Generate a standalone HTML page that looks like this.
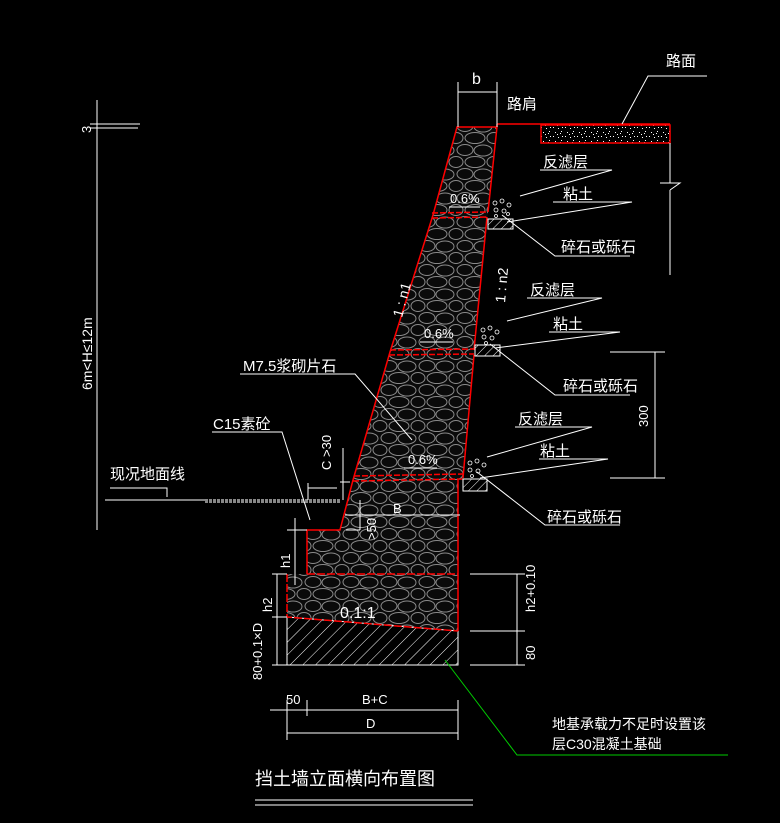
<!DOCTYPE html>
<html><head><meta charset="utf-8"><style>
html,body{margin:0;padding:0;background:#000;}
svg{display:block}
text{font-family:"Liberation Sans","Noto Sans CJK SC",sans-serif;fill:#fff;}
</style></head><body>
<svg width="780" height="823" viewBox="0 0 780 823" xmlns="http://www.w3.org/2000/svg">
<defs>
<pattern id="st" width="38" height="24" patternUnits="userSpaceOnUse">
<rect width="38" height="24" fill="#0a0a0a"/>
<g fill="none" stroke="#8a8a8a" stroke-width="1">
<ellipse cx="9" cy="6" rx="8" ry="5.5"/>
<ellipse cx="27" cy="6.5" rx="9" ry="5.5"/>
<ellipse cx="0" cy="18" rx="7" ry="5.5"/>
<ellipse cx="38" cy="18" rx="7" ry="5.5"/>
<ellipse cx="19" cy="18" rx="10" ry="5.5"/>
</g>
</pattern>
<pattern id="ht" width="9" height="9" patternUnits="userSpaceOnUse" patternTransform="rotate(45)">
<line x1="0" y1="0" x2="0" y2="9" stroke="#fff" stroke-width="1"/>
</pattern>
<pattern id="hs" width="6" height="6" patternUnits="userSpaceOnUse" patternTransform="rotate(45)">
<line x1="0" y1="0" x2="0" y2="6" stroke="#fff" stroke-width="1"/>
</pattern>
<pattern id="sp" width="12" height="9" patternUnits="userSpaceOnUse">
<rect width="12" height="9" fill="#000"/>
<g fill="#fff"><rect x="1" y="1" width="1" height="1"/><rect x="6" y="2" width="1" height="1"/><rect x="9" y="5" width="1" height="1"/><rect x="3" y="6" width="1" height="1"/><rect x="10" y="1" width="1" height="1"/><rect x="5" y="8" width="1" height="1"/><rect x="8" y="7" width="1" height="1"/></g>
</pattern>
</defs>

<polygon points="457,127 497,127 488,212 474,350 463,478 458,480 458,574 307,574 307,530 340,530 353,480 390,352 433,215" fill="url(#st)"/>
<polygon points="287,574 458,574 458,631 287,617" fill="url(#st)"/>
<polygon points="287,617 458,631 458,665 287,665" fill="url(#ht)" stroke="#fff"/>
<g fill="none" stroke="#f00" stroke-width="1.5">
<polyline points="433,215 457,127 497,127 488,212"/>
<line x1="487" y1="217" x2="474" y2="350"/>
<line x1="474" y1="355" x2="463" y2="478"/>
<polyline points="433,215 390,352 353,480 340,530 307,530 307,574"/>
<line x1="432" y1="213" x2="488" y2="212" stroke-dasharray="6,2"/>
<line x1="432" y1="218" x2="487" y2="217" stroke-dasharray="6,2"/>
<line x1="390" y1="350" x2="474" y2="349" stroke-dasharray="6,2"/>
<line x1="389" y1="355" x2="474" y2="354" stroke-dasharray="6,2"/>
<line x1="354" y1="476" x2="463" y2="474" stroke-dasharray="6,2"/>
<line x1="353" y1="481" x2="463" y2="479" stroke-dasharray="6,2"/>
<line x1="307" y1="574" x2="458" y2="574" stroke-dasharray="8,2"/>
<polyline points="287,574 287,617 458,631" stroke-dasharray="8,2"/>
<line x1="458" y1="480" x2="458" y2="631"/>
<line x1="497" y1="124" x2="670" y2="124"/>
<line x1="497" y1="124" x2="497" y2="127"/>
</g>
<rect x="541" y="125" width="129" height="18" fill="url(#sp)" stroke="#f00" stroke-width="1.5"/>
<g stroke="#fff" fill="none" stroke-width="1">
<line x1="670" y1="143" x2="670" y2="183"/><polyline points="660,183 680,183 670,190"/><line x1="670" y1="190" x2="670" y2="275"/>
<polyline points="622,124 648,76 707,76"/>
<line x1="458" y1="82" x2="458" y2="127"/><line x1="497" y1="82" x2="497" y2="127"/><line x1="458" y1="92" x2="497" y2="92"/>
<line x1="97" y1="100" x2="97" y2="530"/><line x1="90" y1="124" x2="140" y2="124"/><line x1="90" y1="128" x2="138" y2="128"/>
<line x1="105" y1="500" x2="205" y2="500"/><polyline points="110,488 167,488 167,497"/>
<line x1="205" y1="501" x2="340" y2="501" stroke="#888" stroke-width="4" stroke-dasharray="3,1"/>
<polyline points="212,432 282,432 310,520"/>
<polyline points="240,374 355,374 412,440"/>
<polyline points="540,170 612,170 520,196"/><polyline points="553,202 632,202 507,222"/><polyline points="502,215 555,256 630,256"/>
<polyline points="527,298 602,298 507,321"/><polyline points="549,332 620,332 495,348"/><polyline points="490,344 555,395 630,395"/>
<polyline points="515,427 592,427 487,457"/><polyline points="539,459 608,459 480,478"/><polyline points="477,472 545,525 620,525"/>
<line x1="610" y1="352" x2="665" y2="352"/><line x1="610" y1="478" x2="665" y2="478"/><line x1="655" y1="352" x2="655" y2="478"/>
<line x1="470" y1="574" x2="525" y2="574"/><line x1="470" y1="631" x2="525" y2="631"/><line x1="470" y1="665" x2="525" y2="665"/><line x1="517" y1="574" x2="517" y2="665"/>
<line x1="272" y1="574" x2="287" y2="574"/><line x1="272" y1="617" x2="287" y2="617"/><line x1="272" y1="665" x2="287" y2="665"/>
<line x1="277" y1="574" x2="277" y2="665"/><line x1="295" y1="518" x2="295" y2="585"/><line x1="287" y1="530" x2="307" y2="530"/>
<line x1="308" y1="483" x2="308" y2="500"/><line x1="308" y1="488" x2="337" y2="488"/><line x1="343" y1="448" x2="343" y2="500"/><line x1="340" y1="482" x2="350" y2="482"/>
<line x1="345" y1="515" x2="460" y2="515"/><line x1="360" y1="500" x2="360" y2="530"/><line x1="346" y1="530" x2="360" y2="530"/>
<line x1="270" y1="710" x2="458" y2="710"/><line x1="287" y1="700" x2="287" y2="740"/><line x1="307" y1="700" x2="307" y2="716"/><line x1="458" y1="700" x2="458" y2="740"/>
<line x1="287" y1="733" x2="458" y2="733"/>
<line x1="255" y1="800" x2="473" y2="800"/><line x1="255" y1="805" x2="473" y2="805"/>
<line x1="449" y1="207" x2="480" y2="207"/><line x1="420" y1="342" x2="453" y2="342"/><line x1="404" y1="468" x2="437" y2="468"/>
</g>
<polyline points="445,660 517,755 728,755" fill="none" stroke="#0c0" stroke-width="1"/>
<g stroke="#fff" fill="none"><rect x="488" y="219" width="25" height="10" fill="url(#hs)"/><rect x="475" y="345" width="25" height="11" fill="url(#hs)"/><rect x="463" y="479" width="24" height="12" fill="url(#hs)"/></g>
<g fill="none" stroke="#fff" stroke-width="0.8">
<circle cx="495" cy="203" r="2"/><circle cx="502" cy="201" r="2"/><circle cx="509" cy="205" r="2"/><circle cx="496" cy="210" r="2"/><circle cx="504" cy="211" r="2"/><circle cx="496" cy="216" r="1.5"/><circle cx="508" cy="214" r="1.5"/>
<circle cx="483" cy="330" r="2"/><circle cx="490" cy="328" r="2"/><circle cx="497" cy="332" r="2"/><circle cx="484" cy="337" r="2"/><circle cx="492" cy="338" r="2"/><circle cx="486" cy="343" r="1.5"/>
<circle cx="470" cy="463" r="2"/><circle cx="477" cy="461" r="2"/><circle cx="484" cy="465" r="2"/><circle cx="470" cy="470" r="2"/><circle cx="478" cy="471" r="2"/><circle cx="472" cy="476" r="1.5"/>
</g>
<g font-size="15">
<text x="666" y="66">路面</text><text x="507" y="109">路肩</text><text x="472" y="84" font-size="16">b</text>
<text x="543" y="167">反滤层</text><text x="563" y="199">粘土</text><text x="561" y="252">碎石或砾石</text>
<text x="530" y="295">反滤层</text><text x="553" y="329">粘土</text><text x="563" y="391">碎石或砾石</text>
<text x="518" y="424">反滤层</text><text x="540" y="456">粘土</text><text x="547" y="522">碎石或砾石</text>
<text x="243" y="371">M7.5浆砌片石</text><text x="213" y="429">C15素砼</text><text x="110" y="479">现况地面线</text>
<text x="255" y="785" font-size="18">挡土墙立面横向布置图</text>
<text x="552" y="729" font-size="14">地基承载力不足时设置该</text><text x="552" y="749" font-size="14">层C30混凝土基础</text>
</g>
<g font-size="13">
<text x="450" y="203">0.6%</text><text x="424" y="338">0.6%</text><text x="408" y="464">0.6%</text>
<text x="393" y="513">B</text><text x="340" y="618" font-size="16">0.1:1</text>
<text x="286" y="704">50</text><text x="362" y="704">B+C</text><text x="366" y="728">D</text>
<text transform="translate(92,390) rotate(-90)" font-size="14">6m&lt;H≤12m</text>
<text transform="translate(91,133) rotate(-90)">3</text>
<text transform="translate(402,318) rotate(-75)" font-size="14">1 : n1</text>
<text transform="translate(505,303) rotate(-85)" font-size="14">1 : n2</text>
<text transform="translate(648,427) rotate(-90)">300</text>
<text transform="translate(535,612) rotate(-90)">h2+0.10</text>
<text transform="translate(535,660) rotate(-90)">80</text>
<text transform="translate(272,612) rotate(-90)">h2</text>
<text transform="translate(290,568) rotate(-90)">h1</text>
<text transform="translate(262,680) rotate(-90)">80+0.1×D</text>
<text transform="translate(331,470) rotate(-90)">C &gt;30</text>
<text transform="translate(376,540) rotate(-90)">&gt;50</text>
</g>
</svg>
</body></html>
